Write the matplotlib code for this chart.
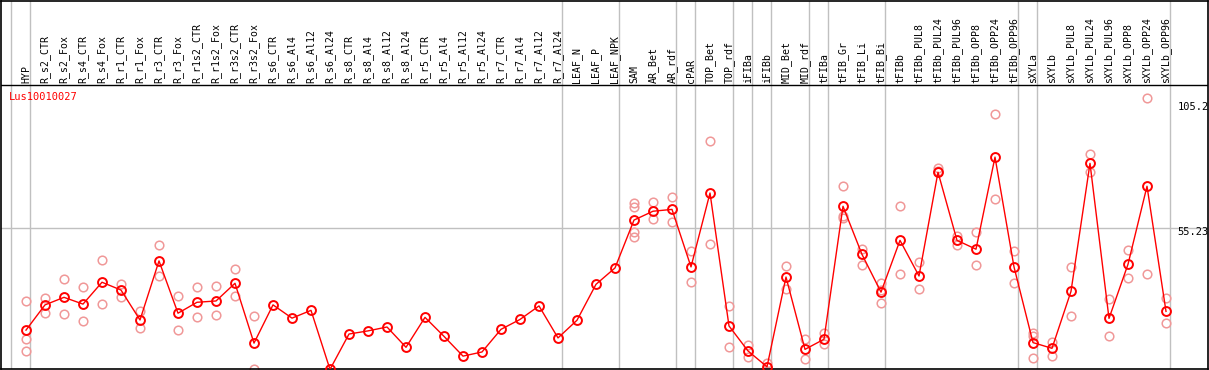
import matplotlib
matplotlib.use("Agg")
import matplotlib.pyplot as plt
import matplotlib.transforms as mtransforms

# ---------------------- Data ----------------------
gene_id = "Lus10010027"

samples = [
    "HYP", "R_s2_CTR", "R_s2_Fox", "R_s4_CTR", "R_s4_Fox", "R_r1_CTR", "R_r1_Fox",
    "R_r3_CTR", "R_r3_Fox", "R_r1s2_CTR", "R_r1s2_Fox", "R_r3s2_CTR", "R_r3s2_Fox",
    "R_s6_CTR", "R_s6_Al4", "R_s6_Al12", "R_s6_Al24", "R_s8_CTR", "R_s8_Al4",
    "R_s8_Al12", "R_s8_Al24", "R_r5_CTR", "R_r5_Al4", "R_r5_Al12", "R_r5_Al24",
    "R_r7_CTR", "R_r7_Al4", "R_r7_Al12", "R_r7_Al24", "LEAF_N", "LEAF_P", "LEAF_NPK",
    "SAM", "AR_Bet", "AR_rdf", "cPAR", "TOP_Bet", "TOP_rdf", "iFIBa", "iFIBb",
    "MID_Bet", "MID_rdf", "tFIBa", "tFIB_Gr", "tFIB_Li", "tFIB_Bi", "tFIBb",
    "tFIBb_PUL8", "tFIBb_PUL24", "tFIBb_PUL96", "tFIBb_OPP8", "tFIBb_OPP24", "tFIBb_OPP96",
    "sXYLa", "sXYLb", "sXYLb_PUL8", "sXYLb_PUL24", "sXYLb_PUL96", "sXYLb_OPP8",
    "sXYLb_OPP24", "sXYLb_OPP96",
]

means = [
    16.1, 25.8, 28.7, 26.1, 34.5, 31.5, 20.0, 42.7, 22.6, 26.8, 27.3, 34.1, 11.1,
    25.8, 20.7, 23.7, 1.0, 14.6, 15.8, 17.3, 9.5, 21.0, 13.7, 6.1, 7.7,
    16.4, 20.2, 25.4, 13.1, 19.9, 33.7, 40.0,
    58.4, 61.8, 62.5, 40.4, 68.8, 17.7, 8.1, 2.0,
    36.5, 8.7, 12.6, 63.7, 45.2, 30.7, 50.6,
    36.9, 76.8, 50.6, 47.2, 82.6, 40.4,
    11.3, 9.1, 31.0, 80.2, 20.6, 41.4, 71.4, 23.3,
]

# replicate values per sample (empty where only the mean is shown)
replicates = [
    [27.2, 12.6, 8.1], [28.6, 22.8], [35.7, 22.2], [32.5, 19.5], [42.9, 26.0],
    [33.8, 28.9], [23.4, 16.8], [48.7, 36.8], [29.2, 16.0], [32.5, 21.0],
    [33.1, 21.8], [39.5, 29.1], [21.4, 1.1],
    [], [], [], [], [], [], [], [], [], [], [], [], [], [], [], [], [], [], [],
    [64.8, 63.6, 53.9, 52.0], [65.3, 58.7], [67.3, 57.7], [46.4, 34.5],
    [88.8, 49.1], [25.4, 9.6], [10.5, 5.7], [3.6, 0.4],
    [40.6, 31.9], [12.7, 4.9], [14.9, 10.6], [71.4, 60.1, 59.1], [47.3, 41.0],
    [34.1, 31.6, 26.4], [63.7, 37.6],
    [42.3, 31.8], [78.3, 77.4], [52.4, 48.8], [53.8, 41.0], [99.2, 66.4], [46.5, 34.1],
    [14.9, 13.7, 5.3], [11.5, 6.3], [40.4, 21.5], [83.7, 76.8], [27.9, 13.7],
    [46.8, 36.0], [105.2, 37.6], [28.3, 18.7],
]

# index of the last sample in each group (separator drawn just after it)
group_ends = [-1, 0, 28, 31, 34, 35, 37, 38, 39, 41, 42, 45, 52, 53, 60]

axis_ticks = [105.2, 55.23, 0]
axis_labels = ["105.2", "55.23", "0"]

# ---------------------- Layout (pixels) ----------------------
W, H = 1209, 370
col0_px, col_step = 26, 19          # x pixel of first column, spacing
zero_px, px_per_unit = 372, 2.6016  # y pixel of value 0, scale
left_px, right_px = 1, 1208
top_px, bottom_px = 0.5, 369
header_px = 85

fig = plt.figure(figsize=(W / 100, H / 100), dpi=100)
ax = fig.add_axes([left_px / W, (H - bottom_px) / H,
                   (right_px - left_px) / W, (bottom_px - top_px) / H])

ax.set_xlim((left_px - col0_px) / col_step, (right_px - col0_px) / col_step)
ax.set_ylim((zero_px - bottom_px) / px_per_unit, (zero_px - top_px) / px_per_unit)
ax.set_xticks([])
ax.set_yticks([])
for sp in ax.spines.values():
    sp.set_color("black")
    sp.set_linewidth(1.2)

grey = "#c0c0c0"
red = "#ff0000"
rep_col = "#f09898"
mono = "DejaVu Sans Mono"

# header divider and group separators
plot_h = bottom_px - top_px
header_frac = (bottom_px - header_px) / plot_h
ax.axhline((zero_px - header_px) / px_per_unit, color="black", lw=1.0)
for g in group_ends:
    ax.axvline(g + 0.23, color=grey, lw=1.0, zorder=0)
ax.axhline(axis_ticks[1], color=grey, lw=1.0, zorder=0)

x = list(range(len(samples)))

# replicates
rx, ry = [], []
for i, reps in enumerate(replicates):
    for r in reps:
        rx.append(i)
        ry.append(r)
ax.plot(rx, ry, linestyle="none", marker="o", markersize=6.2, markerfacecolor="none",
        markeredgecolor=rep_col, markeredgewidth=1.1, zorder=2)

# means
ax.plot(x, means, color=red, lw=1.0, marker="o", markersize=6.4,
        markerfacecolor="none", markeredgecolor=red, markeredgewidth=1.4, zorder=3)

# sample labels in the header
hdr = mtransforms.blended_transform_factory(ax.transData, ax.transAxes)
for i, s in enumerate(samples):
    ax.text(i, header_frac + 2 / plot_h, s, transform=hdr, rotation=90,
            ha="center", va="bottom", fontsize=7.1, family=mono, color="black")

# right-hand scale labels
offsets = [-9, -4, 10]
for v, lab, dy in zip(axis_ticks, axis_labels, offsets):
    ax.annotate(lab, xy=(group_ends[-1] + 0.23, v), xytext=(7, dy),
                textcoords="offset pixels", ha="left", va="center",
                fontsize=7.5, family=mono, color="black")

# gene id
ax.annotate(gene_id, xy=(0, 1), xycoords="axes fraction", xytext=(8, -97),
            textcoords="offset pixels", ha="left", va="center",
            fontsize=7.5, family=mono, color=red)

fig.savefig("out.png", dpi=100)
